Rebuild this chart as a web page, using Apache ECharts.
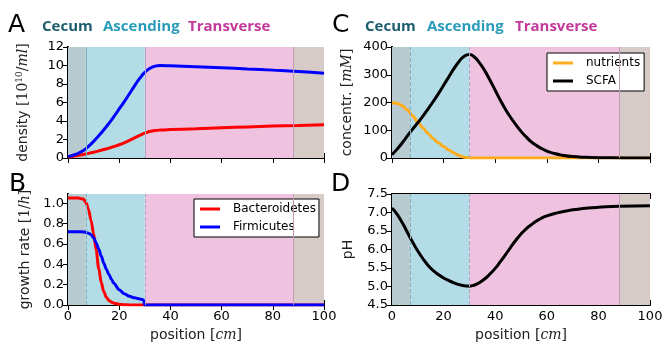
<!DOCTYPE html>
<html>
<head>
<meta charset="utf-8">
<script src="https://cdn.jsdelivr.net/npm/echarts@6/dist/echarts.min.js"></script>
<style>
  html, body { margin: 0; padding: 0; background: #fff; }
  #chart { width: 663px; height: 343px; }
</style>
</head>
<body>
<div id="chart"></div>
<script>
// gut regions (position in cm)
const regionEdges = [0, 7, 30, 88, 100];
const regionFills = ['#b8cbd1', '#b3dce6', '#efc3e0', '#d6cbc7'];
const regionNames = ['Cecum', 'Ascending', 'Transverse'];
const regionNameColors = ['#1b5d6d', '#2a9cba', '#c2399b'];

// A: density
const posDensity = [0, 2, 4, 6, 8, 10, 12, 14, 16, 18, 20, 22, 24, 26, 28, 30, 32, 34, 36, 40, 50, 60, 70, 80, 90, 100];
const bactDensity = [0.1, 0.18, 0.27, 0.38, 0.5, 0.63, 0.77, 0.92, 1.07, 1.24, 1.43, 1.65, 1.9, 2.17, 2.44, 2.68, 2.87, 2.97, 3.02, 3.07, 3.17, 3.27, 3.36, 3.45, 3.52, 3.6];
const firmDensity = [0.15, 0.3, 0.5, 0.8, 1.25, 1.8, 2.4, 3.05, 3.75, 4.5, 5.3, 6.1, 6.95, 7.8, 8.6, 9.25, 9.7, 9.93, 10.0, 9.97, 9.87, 9.76, 9.63, 9.5, 9.35, 9.15];

// B: growth rate
const posGrowth = [0, 2, 4, 6, 7, 8, 9, 10, 11, 12, 13, 14, 15, 16, 17, 18, 20, 22, 24, 26, 28, 29.5, 30, 100];
const bactGrowth = [1.05, 1.05, 1.05, 1.04, 1.01, 0.94, 0.83, 0.7, 0.54, 0.36, 0.22, 0.13, 0.075, 0.045, 0.028, 0.018, 0.007, 0.003, 0.001, 0, 0, 0, 0, 0];
const firmGrowth = [0.72, 0.72, 0.72, 0.718, 0.714, 0.705, 0.69, 0.66, 0.61, 0.55, 0.48, 0.41, 0.35, 0.3, 0.25, 0.21, 0.15, 0.11, 0.085, 0.07, 0.06, 0.05, 0, 0];
const growthTicks = [0, 0.2, 0.4, 0.6, 0.8, 1.0];

// C: concentrations
const posConc = [0, 2, 4, 6, 8, 10, 12, 14, 16, 18, 20, 22, 24, 26, 28, 30, 32, 34, 36, 38, 40, 42, 44, 46, 48, 50, 52, 54, 56, 58, 60, 63, 66, 70, 75, 80, 90, 100];
const nutrients = [200, 197, 188, 173, 152, 130, 108, 88, 70, 55, 41, 29, 18, 9, 3, 0.3, 0, 0, 0, 0, 0, 0, 0, 0, 0, 0, 0, 0, 0, 0, 0, 0, 0, 0, 0, 0, 0, 0];
const scfa = [12, 32, 55, 80, 104, 127, 151, 177, 204, 232, 262, 292, 322, 348, 367, 373, 363, 342, 314, 280, 244, 208, 175, 146, 120, 96, 76, 58, 45, 34, 25, 16, 10, 5, 2.5, 1.2, 0.3, 0];

// D: pH
const posPH = [0, 2, 4, 6, 8, 10, 12, 14, 16, 18, 20, 22, 24, 26, 28, 30, 32, 34, 36, 38, 40, 42, 44, 46, 48, 50, 52, 54, 56, 58, 60, 64, 68, 72, 76, 80, 88, 100];
const pH = [7.12, 6.95, 6.72, 6.46, 6.2, 5.96, 5.75, 5.57, 5.43, 5.32, 5.23, 5.16, 5.1, 5.05, 5.02, 5.01, 5.04, 5.11, 5.21, 5.34, 5.49, 5.67, 5.86, 6.06, 6.25, 6.42, 6.56, 6.67, 6.77, 6.85, 6.91, 6.99, 7.05, 7.09, 7.12, 7.14, 7.17, 7.18];

const FONT = 'DejaVu Sans';
const zip = (xs, ys) => xs.map((x, i) => [x, ys[i]]);

const grids = [
  { left: 68, top: 47, width: 256, height: 111 },   // A
  { left: 68, top: 194, width: 256, height: 111 },  // B
  { left: 392, top: 47, width: 258, height: 111 },  // C
  { left: 392, top: 194, width: 258, height: 111 }  // D
].map(g => Object.assign({ outerBoundsMode: 'none', containLabel: false }, g));

const frame = { show: true, lineStyle: { color: '#000', width: 2 } };
const inTicks = { show: true, inside: true, length: 5, lineStyle: { color: '#000', width: 1 } };
const nameRich = {
  n: { fontFamily: 'DejaVu Serif', fontSize: 14, color: '#222' },
  it: { fontFamily: 'DejaVu Serif', fontStyle: 'italic', fontSize: 14, color: '#222' },
  sup: { fontFamily: 'DejaVu Serif', fontSize: 9, color: '#222', padding: [0, 0, 7, 0] }
};

const xAxes = [];
const yAxes = [];
const yConf = [
  { min: 0, max: 12, interval: 2, fmt: v => String(v), name: 'density {n|[10}{sup|10}{n|/}{it|ml}{n|]}', gap: 37 },
  { min: 0, max: 1.09, interval: 0.2, fmt: v => v.toFixed(1), name: 'growth rate {n|[1/}{it|h}{n|]}', gap: 36, custom: growthTicks },
  { min: 0, max: 400, interval: 100, fmt: v => String(v), name: 'concentr. {n|[}{it|mM}{n|]}', gap: 38 },
  { min: 4.5, max: 7.5, interval: 0.5, fmt: v => v.toFixed(1), name: 'pH', gap: 37 }
];

grids.forEach((g, i) => {
  const bottomLabels = (i === 1 || i === 3);
  xAxes.push({
    gridIndex: i, type: 'value', min: 0, max: 100, interval: 20, position: 'bottom',
    axisLine: frame, axisTick: inTicks, splitLine: { show: false },
    axisLabel: { show: bottomLabels, fontFamily: FONT, fontSize: 13, color: '#000', margin: 5 },
    name: bottomLabels ? 'position {n|[}{it|cm}{n|]}' : '',
    nameLocation: 'middle', nameGap: 23,
    nameTextStyle: { fontFamily: FONT, fontSize: 14, color: '#222', rich: nameRich }
  });
  xAxes.push({
    gridIndex: i, type: 'value', min: 0, max: 100, interval: 20, position: 'top',
    axisLine: frame, axisTick: inTicks, splitLine: { show: false }, axisLabel: { show: false }
  });
  const c = yConf[i];
  const ticks = c.custom ? Object.assign({ customValues: c.custom }, inTicks) : inTicks;
  yAxes.push({
    gridIndex: i, type: 'value', min: c.min, max: c.max, interval: c.interval, position: 'left',
    axisLine: frame, axisTick: ticks, splitLine: { show: false },
    axisLabel: { fontFamily: FONT, fontSize: 13, color: '#000', margin: 4, formatter: c.fmt, customValues: c.custom },
    name: c.name, nameLocation: 'middle', nameGap: c.gap,
    nameTextStyle: { fontFamily: FONT, fontSize: 14, color: '#222', rich: nameRich }
  });
  yAxes.push({
    gridIndex: i, type: 'value', min: c.min, max: c.max, interval: c.interval, position: 'right',
    axisLine: frame, axisTick: ticks, splitLine: { show: false }, axisLabel: { show: false }
  });
});

// coloured gut regions behind each panel
const regionSeries = (i) => ({
  type: 'line', xAxisIndex: 2 * i, yAxisIndex: 2 * i, data: [], silent: true, z: 1,
  markArea: {
    silent: true,
    data: regionFills.map((col, k) => [
      { xAxis: regionEdges[k], itemStyle: { color: col, opacity: 1 } },
      { xAxis: regionEdges[k + 1] }
    ])
  },
  markLine: {
    silent: true, symbol: 'none', label: { show: false },
    data: [
      { xAxis: 7, lineStyle: { color: '#7fb0c2', width: 1, type: i === 0 ? 'solid' : 'dashed' } },
      { xAxis: 30, lineStyle: { color: '#a9a6c9', width: 1, type: i === 0 ? 'solid' : 'dashed' } },
      { xAxis: 88, lineStyle: { color: '#c49ab4', width: 1, type: 'solid' } }
    ]
  }
});

const lineSeries = (name, i, data, color, mono) => ({
  name, type: 'line', xAxisIndex: 2 * i, yAxisIndex: 2 * i, data,
  showSymbol: false, smooth: mono ? 0.3 : 0.5, smoothMonotone: mono ? 'x' : null, z: 3,
  lineStyle: { color, width: 3 }, itemStyle: { color }
});

const series = [
  regionSeries(0), regionSeries(1), regionSeries(2), regionSeries(3),
  lineSeries('bactDensity', 0, zip(posDensity, bactDensity), '#ff0000'),
  lineSeries('firmDensity', 0, zip(posDensity, firmDensity), '#0000ff'),
  lineSeries('Bacteroidetes', 1, zip(posGrowth, bactGrowth), '#ff0000', true),
  lineSeries('Firmicutes', 1, zip(posGrowth, firmGrowth), '#0000ff', true),
  lineSeries('nutrients', 2, zip(posConc, nutrients), '#ffad1f', true),
  lineSeries('SCFA', 2, zip(posConc, scfa), '#000000'),
  lineSeries('pH', 3, zip(posPH, pH), '#000000')
];

const legendBase = {
  orient: 'vertical', icon: 'rect', itemWidth: 20, itemHeight: 3, itemGap: 4,
  backgroundColor: '#fff', borderColor: '#000', borderWidth: 1, borderRadius: 0,
  textStyle: { fontFamily: FONT, fontSize: 12, lineHeight: 14, color: '#000', padding: [0, 0, 0, 8] }
};

// panel letters and region headings
const graphic = [];
const letters = [['A', 8, 28], ['B', 9, 187], ['C', 332, 28], ['D', 331, 187]];
letters.forEach(([t, x, y]) => graphic.push({
  type: 'text', left: x, top: y - 15,
  style: { text: t, fontFamily: FONT, fontSize: 25, fill: '#000' }
}));
const headX = [[42, 103, 188], [365, 427, 515]];
headX.forEach(row => row.forEach((x, k) => graphic.push({
  type: 'text', left: x, top: 19,
  style: { text: regionNames[k], fontFamily: 'Open Sans', fontWeight: 'bold', fontSize: 15, fill: regionNameColors[k] }
})));

const chart = echarts.init(document.getElementById('chart'), null, { renderer: 'canvas' });
chart.setOption({
  animation: false,
  backgroundColor: '#fff',
  grid: grids,
  xAxis: xAxes,
  yAxis: yAxes,
  legend: [
    Object.assign({}, legendBase, { data: ['Bacteroidetes', 'Firmicutes'], left: 194, top: 199, padding: [3, 3, 3, 6] }),
    Object.assign({}, legendBase, { data: ['nutrients', 'SCFA'], left: 547, top: 53, padding: [3, 4, 3, 6] })
  ],
  graphic,
  series
});
</script>
</body>
</html>
